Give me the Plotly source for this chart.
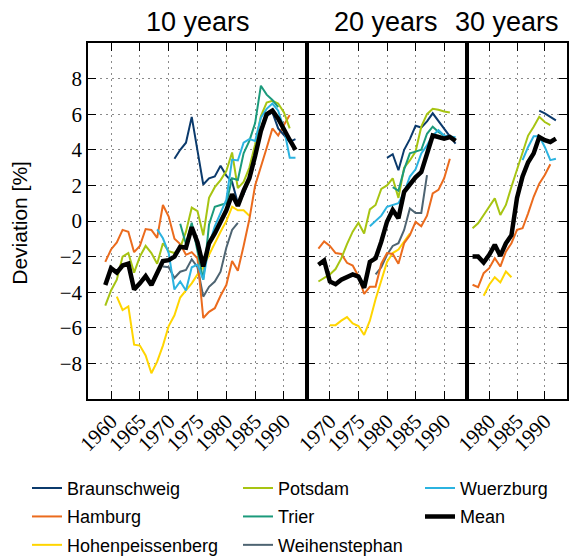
import plotly.graph_objects as go

# ---------------- data ----------------
STATIONS = ["Braunschweig", "Hamburg", "Hohenpeissenberg", "Potsdam",
            "Trier", "Weihenstephan", "Wuerzburg", "Mean"]
COLORS = ["#0b3a6c", "#eb6b1d", "#ffd500", "#a7c412",
          "#1b9a7b", "#4e6472", "#2bb3e0", "#000000"]

PANEL_TITLES = ["10 years", "20 years", "30 years"]
X_RANGES = [[1956, 1994], [1966, 1994], [1976, 1994]]
X_TICKS = [[1960, 1965, 1970, 1975, 1980, 1985, 1990],
           [1970, 1975, 1980, 1985, 1990],
           [1980, 1985, 1990]]
Y_TICKS = [-8, -6, -4, -2, 0, 2, 4, 6, 8]

# 10 years (start year, values)
BRAUNSCHWEIG_10_START = 1971
BRAUNSCHWEIG_10 = [3.5, 4.0, 4.4, 5.85, 3.95, 2.05, 2.4, 2.5, 3.1, 2.55, 2.2, 1.0,
                   1.5, 2.4, 3.6, 5.0, 5.9, 6.1, 5.2, 4.8, 4.45, 4.6]
HAMBURG_10_START = 1959
HAMBURG_10 = [-2.3, -1.6, -1.2, -0.5, -0.6, -1.75, -1.4, -0.45, -0.5, -0.95, 0.9,
              0.25, -1.0, -1.3, -1.9, -1.75, -2.1, -5.45, -5.1, -4.9, -4.2, -3.6,
              -2.25, -2.8, -1.4, 0.1, 2.0, 3.0, 4.1, 5.2, 4.8, 5.4, 5.95]
HOHENPEISSENBERG_10_START = 1961
HOHENPEISSENBERG_10 = [-4.25, -5.0, -4.8, -6.95, -7.0, -7.55, -8.55, -7.9, -7.0,
                       -5.9, -5.3, -4.3, -3.9, -3.5, -3.0, -2.6, -1.9, -1.2, -0.6,
                       0.0, 0.8, 0.6, 0.6, 0.3]
POTSDAM_10_START = 1959
POTSDAM_10 = [-4.75, -3.9, -3.3, -2.0, -1.8, -2.9, -2.0, -1.4, -1.8, -2.4, -1.25,
              -1.7, -1.8, -1.5, -0.6, 0.75, 0.55, -0.8, 1.3, 1.9, 2.3, 2.8, 3.85,
              1.85, 2.2, 3.0, 4.3, 5.9, 6.65, 6.75, 6.6, 6.1, 5.2]
TRIER_10_START = 1972
TRIER_10 = [-0.15, -1.3, -0.1, -1.8, -3.3, -0.2, 0.8, 0.9, 1.0, 2.4, 2.3, 3.8,
            4.5, 5.5, 7.6, 7.1, 6.8, 6.4]
WEIHENSTEPHAN_10_START = 1969
WEIHENSTEPHAN_10 = [-2.55, -2.6, -3.2, -2.85, -2.75, -2.15, -2.6, -4.25, -3.7,
                    -3.4, -2.85, -1.5, -0.5, -0.1]
WUERZBURG_10_START = 1968
WUERZBURG_10 = [-0.47, -0.97, -1.8, -3.85, -3.4, -3.9, -2.6, -2.45, -3.3, -1.35,
                -0.3, 0.4, 1.2, 3.45, 3.4, 4.4, 4.6, 4.5, 5.8, 6.3, 6.6, 6.2, 5.2,
                3.55, 3.55]
MEAN_10_START = 1959
MEAN_10 = [-3.6, -2.65, -2.9, -2.5, -2.4, -3.85, -3.5, -3.1, -3.6, -2.9, -2.25,
           -2.2, -2.0, -1.45, -1.5, -0.35, -1.2, -2.55, -1.25, -0.7, 0.0, 0.6,
           1.5, 0.85, 1.7, 2.4, 3.65, 5.05, 6.0, 6.2, 5.75, 5.1, 4.55, 4.0]

# 20 years
BRAUNSCHWEIG_20_START = 1980
BRAUNSCHWEIG_20 = [3.55, 3.75, 2.85, 4.0, 4.6, 5.35, 5.25, 5.6, 6.05, 5.6, 5.15,
                   4.75, 4.35]
HAMBURG_20_START = 1968
HAMBURG_20 = [-1.55, -1.15, -1.4, -1.8, -1.85, -2.35, -2.5, -3.1, -4.1, -3.7,
              -3.7, -2.4, -1.8, -1.85, -2.4, -1.25, -0.8, -0.05, -0.3, 0.3, 1.55,
              1.75, 2.4, 3.5]
HOHENPEISSENBERG_20_START = 1970
HOHENPEISSENBERG_20 = [-5.85, -5.85, -5.6, -5.4, -5.75, -5.9, -6.4, -5.6, -4.4,
                       -3.3, -2.3, -1.8, -1.6, -1.15, -0.7]
POTSDAM_20_START = 1968
POTSDAM_20 = [-3.4, -3.2, -3.0, -2.7, -2.1, -1.3, -0.6, -0.1, -0.7, 0.65, 0.9,
              1.8, 2.0, 2.4, 1.3, 3.0, 3.4, 3.9, 5.3, 6.0, 6.3, 6.25, 6.15, 6.1]
TRIER_20_START = 1981
TRIER_20 = [1.9, 1.7, 2.9, 3.8, 3.9, 4.0, 4.9, 5.3, 5.0, 4.8]
WEIHENSTEPHAN_20_START = 1978
WEIHENSTEPHAN_20 = [-3.0, -2.6, -1.9, -1.4, -1.25, -0.5, 0.7, 0.45, 0.45, 2.58]
WUERZBURG_20_START = 1977
WUERZBURG_20 = [-0.3, 0.0, 0.3, 0.8, 0.9, 1.0, 1.6, 2.5, 2.9, 3.8, 4.25, 4.8,
                5.1, 4.8, 4.75, 4.7]
MEAN_20_START = 1968
MEAN_20 = [-2.46, -2.22, -3.4, -3.55, -3.3, -3.15, -3.0, -3.12, -3.75, -2.3,
           -2.1, -1.16, -0.04, 0.62, 0.15, 1.64, 2.1, 2.45, 2.75, 3.8, 4.8, 4.72,
           4.62, 4.72, 4.5]

# 30 years
BRAUNSCHWEIG_30_START = 1989
BRAUNSCHWEIG_30 = [6.2, 6.05, 5.85, 5.65]
HAMBURG_30_START = 1977
HAMBURG_30 = [-3.58, -3.72, -2.93, -2.65, -2.09, -2.56, -1.72, -1.25, -0.5,
              -0.41, 0.43, 1.36, 2.1, 2.58, 3.19]
HOHENPEISSENBERG_30_START = 1979
HOHENPEISSENBERG_30 = [-4.2, -3.58, -3.16, -3.45, -2.84, -3.16]
POTSDAM_30_START = 1977
POTSDAM_30 = [-0.41, -0.13, 0.34, 0.8, 1.27, 0.34, 0.9, 1.92, 2.86, 3.8, 4.8,
              5.3, 5.85, 5.56, 5.38]
WUERZBURG_30_START = 1986
WUERZBURG_30 = [3.42, 4.16, 4.76, 4.76, 4.16, 3.42, 3.5]
MEAN_30_START = 1977
MEAN_30 = [-2.0, -2.0, -2.33, -1.9, -1.34, -1.96, -1.25, -0.8, 1.3, 2.5, 3.3,
           3.8, 4.72, 4.54, 4.44, 4.63]

PANELS = [
    {"Braunschweig": (BRAUNSCHWEIG_10_START, BRAUNSCHWEIG_10),
     "Hamburg": (HAMBURG_10_START, HAMBURG_10),
     "Hohenpeissenberg": (HOHENPEISSENBERG_10_START, HOHENPEISSENBERG_10),
     "Potsdam": (POTSDAM_10_START, POTSDAM_10),
     "Trier": (TRIER_10_START, TRIER_10),
     "Weihenstephan": (WEIHENSTEPHAN_10_START, WEIHENSTEPHAN_10),
     "Wuerzburg": (WUERZBURG_10_START, WUERZBURG_10),
     "Mean": (MEAN_10_START, MEAN_10)},
    {"Braunschweig": (BRAUNSCHWEIG_20_START, BRAUNSCHWEIG_20),
     "Hamburg": (HAMBURG_20_START, HAMBURG_20),
     "Hohenpeissenberg": (HOHENPEISSENBERG_20_START, HOHENPEISSENBERG_20),
     "Potsdam": (POTSDAM_20_START, POTSDAM_20),
     "Trier": (TRIER_20_START, TRIER_20),
     "Weihenstephan": (WEIHENSTEPHAN_20_START, WEIHENSTEPHAN_20),
     "Wuerzburg": (WUERZBURG_20_START, WUERZBURG_20),
     "Mean": (MEAN_20_START, MEAN_20)},
    {"Braunschweig": (BRAUNSCHWEIG_30_START, BRAUNSCHWEIG_30),
     "Hamburg": (HAMBURG_30_START, HAMBURG_30),
     "Hohenpeissenberg": (HOHENPEISSENBERG_30_START, HOHENPEISSENBERG_30),
     "Potsdam": (POTSDAM_30_START, POTSDAM_30),
     "Wuerzburg": (WUERZBURG_30_START, WUERZBURG_30),
     "Mean": (MEAN_30_START, MEAN_30)},
]

# legend column assignment (column-major like the reference)
LEGEND_OF = {"Braunschweig": "legend", "Hamburg": "legend", "Hohenpeissenberg": "legend",
             "Potsdam": "legend2", "Trier": "legend2", "Weihenstephan": "legend2",
             "Wuerzburg": "legend3", "Mean": "legend3"}

DRAW_ORDER = ["Hohenpeissenberg", "Weihenstephan", "Hamburg", "Braunschweig",
              "Potsdam", "Trier", "Wuerzburg", "Mean"]

# ---------------- figure ----------------
W, H = 573, 558
ML, MR, MT, MB = 88, 6, 43, 159
PW = W - ML - MR
PH = H - MT - MB
BOUNDS_PX = [88, 307, 467, 567]
DOMAINS = [[(BOUNDS_PX[i] - ML) / PW, (BOUNDS_PX[i + 1] - ML) / PW] for i in range(3)]
DOMAINS[-1][1] = 1.0

fig = go.Figure()
for p, panel in enumerate(PANELS):
    sfx = "" if p == 0 else str(p + 1)
    for name in DRAW_ORDER:
        if name not in panel:
            continue
        start, vals = panel[name]
        years = list(range(start, start + len(vals)))
        idx = STATIONS.index(name)
        fig.add_trace(go.Scatter(
            x=years, y=vals, mode="lines", name=name,
            line=dict(color=COLORS[idx], width=4.5 if name == "Mean" else 2),
            xaxis="x" + sfx, yaxis="y" + sfx,
            legendgroup=name, showlegend=(p == 0),
            legend=LEGEND_OF[name], legendrank=idx + 1,
        ))

tickfont = dict(family="Liberation Serif", size=21, color="black")
common = dict(showline=True, linewidth=1.6, linecolor="black", mirror="ticks",
              ticks="inside", ticklen=8, tickwidth=1, tickcolor="black",
              showgrid=True, gridcolor="#8a8a8a", gridwidth=1, griddash="2px,4px",
              zeroline=False, tickfont=tickfont, automargin=False)

layout = dict(
    width=W, height=H,
    margin=dict(l=ML, r=MR, t=MT, b=MB, pad=0, autoexpand=False),
    paper_bgcolor="white", plot_bgcolor="white",
    font=dict(family="Liberation Sans", color="black"),
)
for p in range(3):
    sfx = "" if p == 0 else str(p + 1)
    layout["xaxis" + sfx] = dict(common, domain=DOMAINS[p], range=X_RANGES[p],
                                 tickvals=X_TICKS[p], tickangle=-45,
                                 anchor="y" + sfx)
    layout["yaxis" + sfx] = dict(common, domain=[0, 1], range=[-10, 10],
                                 tickvals=Y_TICKS, anchor="x" + sfx,
                                 showticklabels=(p == 0))

legfont = dict(family="Liberation Sans", size=18, color="black")
leg_common = dict(orientation="v", xanchor="left", yanchor="top", y=-0.199,
                  font=legfont, bgcolor="rgba(0,0,0,0)", traceorder="grouped",
                  tracegroupgap=2, itemwidth=30)
layout["legend"] = dict(leg_common, x=(27 - ML) / PW)
layout["legend2"] = dict(leg_common, x=(238 - ML) / PW)
layout["legend3"] = dict(leg_common, x=(420 - ML) / PW)

title_x_px = [197.5, 386, 507]
annotations = []
for t, xpx in zip(PANEL_TITLES, title_x_px):
    annotations.append(dict(text=t, x=(xpx - ML) / PW, y=(H - MB - 22) / PH,
                            xref="paper", yref="paper", showarrow=False,
                            xanchor="center", yanchor="middle",
                            font=dict(family="Liberation Sans", size=27, color="black")))
annotations.append(dict(text="Deviation [%]", x=(20 - ML) / PW, y=0.495,
                        xref="paper", yref="paper", showarrow=False,
                        xanchor="center", yanchor="middle", textangle=-90,
                        font=dict(family="Liberation Sans", size=21, color="black")))
layout["annotations"] = annotations

fig.update_layout(**layout)
fig.write_html("out.html")
